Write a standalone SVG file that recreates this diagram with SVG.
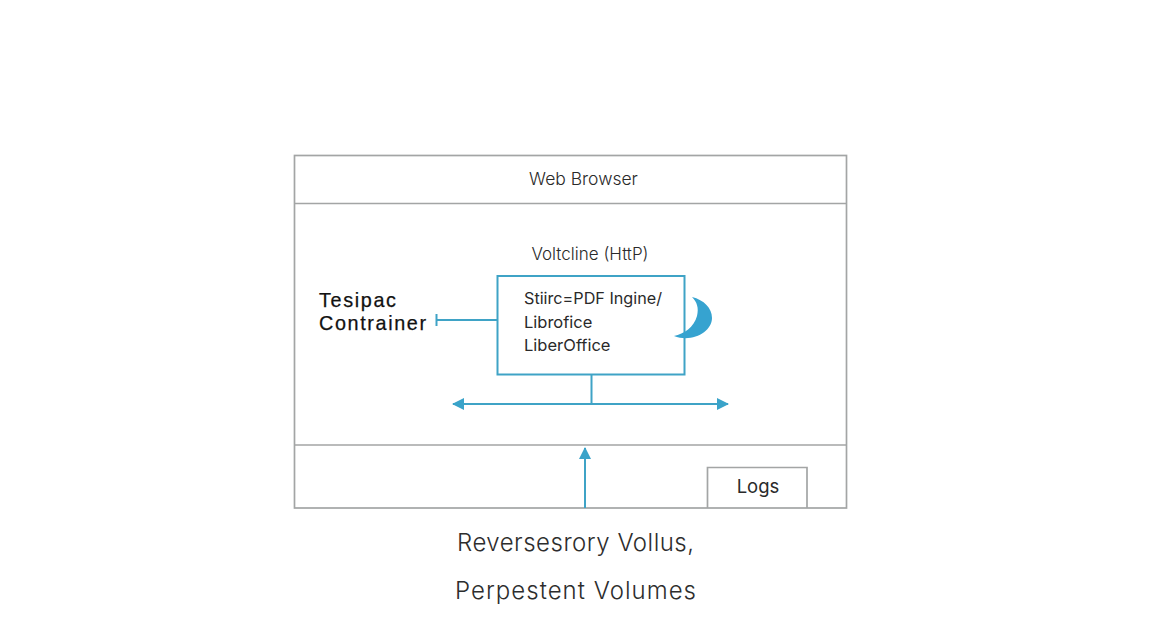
<svg xmlns="http://www.w3.org/2000/svg" width="1152" height="640" viewBox="0 0 1152 640">
<defs>
<marker id="tri" markerUnits="userSpaceOnUse" markerWidth="13" markerHeight="13" refX="11" refY="6" orient="auto-start-reverse"><path d="M0 0L12 6L0 12Z" fill="#3aa3c9"/></marker>
</defs>
<style>
.g{fill:none;stroke:#a3a5a5;stroke-width:1.700}
.b{fill:none;stroke:#3fa3c6;stroke-width:2}
.t{font-family:"Inter","Liberation Sans",sans-serif;fill:#2a2a2a}
.h{font-family:"Liberation Sans",sans-serif;font-size:19.800px;fill:#111;stroke:#111;stroke-width:.25}
.c{font-family:"Inter","Liberation Sans",sans-serif;font-weight:300;font-size:24px;fill:#2d2d2d}
</style>
<rect width="1152" height="640" fill="#fff"/>
<g id="outer-frame"><rect class="g" x="294.500" y="155.500" width="552" height="352.500"/></g>
<g id="web-browser"><line class="g" x1="294.500" y1="203.500" x2="846.500" y2="203.500"/><text class="t" x="583.500" y="185" font-size="17.500" font-weight="300" text-anchor="middle">Web Browser</text></g>
<g id="storage-band"><line class="g" x1="294.500" y1="445" x2="846.500" y2="445"/></g>
<g id="logs"><path class="g" d="M707.500 508V467.500H807V508"/><text class="t" x="758" y="493" font-size="18.500" text-anchor="middle">Logs</text></g>
<g id="volume-label"><text class="t" x="590" y="260" font-size="17" font-weight="300" text-anchor="middle">Voltcline (HttP)</text></g>
<g id="container-label"><text class="h" x="319" y="306.500" textLength="77" lengthAdjust="spacing">Tesipac</text><text class="h" x="319" y="329.500" textLength="107" lengthAdjust="spacing">Contrainer</text></g>
<g id="engine"><rect class="b" x="497.500" y="276" width="187" height="98.500"/><text class="t" x="524" y="304" font-size="16.200">Stiirc=PDF Ingine/</text><text class="t" x="524" y="328" font-size="16.500">Librofice</text><text class="t" x="524" y="351" font-size="16.500">LiberOffice</text></g>
<g id="crescent"><path d="M692 297C704 300 712 308 712 318C712 332 692 343 674 336C684 334 694 327 697 316C699 308 697 302 692 297Z" fill="#36a3d0"/></g>
<g id="connectors">
<path class="b" d="M497 320H437"/><path class="b" d="M436.500 314V326"/>
<path class="b" d="M591.500 375V404"/>
<line class="b" stroke-width="2.500" x1="453" y1="404" x2="728" y2="404" marker-start="url(#tri)" marker-end="url(#tri)"/>
<line class="b" stroke-width="2.500" x1="585" y1="508" x2="585" y2="448" marker-end="url(#tri)"/>
</g>
<g id="caption"><text class="c" x="457" y="551" textLength="237" lengthAdjust="spacing">Reversesrory Vollus,</text><text class="c" x="455" y="599" textLength="241" lengthAdjust="spacing">Perpestent Volumes</text></g>
</svg>
